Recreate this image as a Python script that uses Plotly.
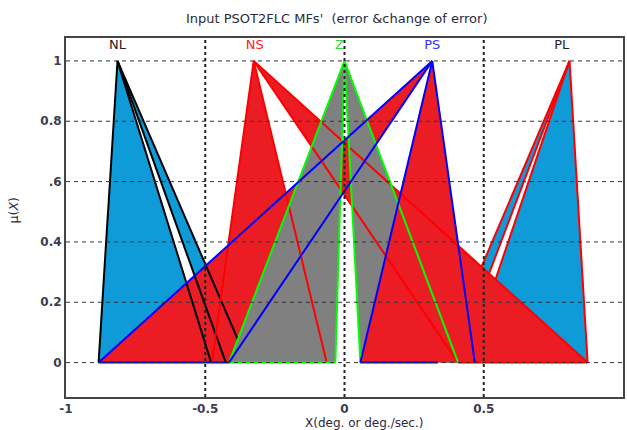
import plotly.graph_objects as go

# ---------------- data (membership-function parameters, x in deg or deg/s) ----------------
mf_names = ["NL", "NS", "Z", "PS", "PL"]
mf_apex = [-0.815, -0.326, 0.0, 0.315, 0.808]

# FOU polygons: outer-left, apex, outer-right, inner-right, apex, inner-left
nl_feet = [-0.883, -0.347, -0.426, -0.479]
ns_feet = [-0.476, 0.873, 0.408, -0.064]
z_feet = [-0.415, 0.408, 0.057, -0.033]
pl_feet = [0.873, 0.345, 0.398, 0.441]
ps_left_feet = [-0.883, -0.415]     # left wedge of PS
ps_right_feet = [0.057, 0.468]      # right triangle of PS

label_x = [-0.815, -0.322, -0.018, 0.315, 0.78]
label_y = [1.052, 1.052, 1.052, 1.052, 1.052]
label_colors = ["#222222", "#ff2020", "#33dd33", "#3333ff", "#222222"]

x_ticks = [-1, -0.5, 0, 0.5, 1]
x_tick_text = ["-1", "-0.5", "0", "0.5", "1"]
y_ticks = [0, 0.2, 0.4, 0.6, 0.8, 1]
y_tick_text = ["0", "0.2", "0.4", ".6", "0.8", "1"]

CYAN = "#0f9ad8"
RED = "#ec1c24"
GRAY = "#808080"

fig = go.Figure()


def fou(apex, feet):
    a1, c1, c2, a2 = feet
    xs = [a1, apex, c1, c2, apex, a2, a1]
    ys = [0, 1, 0, 0, 1, 0, 0]
    return xs, ys


def tri(apex, feet):
    a, c = feet
    return [a, apex, c, a], [0, 1, 0, 0]


def add_fill(xs, ys, color):
    fig.add_trace(go.Scatter(x=xs, y=ys, mode="lines", fill="toself",
                             fillcolor=color, line=dict(width=0, color=color),
                             hoverinfo="skip", showlegend=False))


def add_lines(apex, feet, color, base=None):
    xs, ys = [], []
    for f in feet:
        xs += [apex, f, None]
        ys += [1, 0, None]
    if base:
        for b0, b1 in base:
            xs += [b0, b1, None]
            ys += [0, 0, None]
    fig.add_trace(go.Scatter(x=xs, y=ys, mode="lines",
                             line=dict(color=color, width=2),
                             hoverinfo="skip", showlegend=False))


# layer order reproduces the overlapping of the original picture
add_fill(*fou(mf_apex[0], nl_feet), CYAN)
add_fill(*fou(mf_apex[4], pl_feet), CYAN)
add_lines(mf_apex[4], pl_feet, "#ff0000")
add_fill(*fou(mf_apex[1], ns_feet), RED)
add_fill(*tri(mf_apex[3], ps_left_feet), RED)
add_lines(mf_apex[0], nl_feet, "#000000")
add_fill(*fou(mf_apex[2], z_feet), GRAY)
add_fill(*tri(mf_apex[3], ps_right_feet), RED)
add_lines(mf_apex[1], ns_feet, "#ff0000", base=[(ns_feet[2], ns_feet[1])])
add_lines(mf_apex[2], z_feet, "#00ff00", base=[(z_feet[0], z_feet[3])])
add_lines(mf_apex[3], ps_left_feet + ps_right_feet, "#0000ff",
          base=[(ps_left_feet[0], ps_left_feet[1]), (ps_right_feet[0], 0.335)])

# MF labels
fig.add_trace(go.Scatter(x=label_x, y=label_y, mode="text", text=mf_names,
                         textfont=dict(family="DejaVu Sans", size=13, color=label_colors),
                         hoverinfo="skip", showlegend=False))

# grid drawn above the filled areas
for yv in y_ticks:
    fig.add_shape(type="line", xref="x", yref="y", x0=-1, x1=1, y0=yv, y1=yv,
                  line=dict(color="#333333", width=1, dash="4px,4px"), layer="above")
for xv in x_ticks[1:-1]:
    fig.add_shape(type="line", xref="x", yref="y", x0=xv, x1=xv, y0=-0.114, y1=1.076,
                  line=dict(color="#222222", width=2, dash="dot"), layer="above")

fig.update_layout(
    width=627, height=430,
    margin=dict(l=66, r=2, t=38, b=33),
    paper_bgcolor="white", plot_bgcolor="white",
    title=dict(text="Input PSOT2FLC MFs'  (error &change of error)",
               x=0.537, xanchor="center", y=0.958, yanchor="middle",
               font=dict(family="DejaVu Sans", size=13, color="#2a2a40")),
    xaxis=dict(range=[-1, 1], tickvals=x_ticks, ticktext=x_tick_text,
               showgrid=False, zeroline=False, ticks="",
               showline=True, linecolor="#444444", linewidth=2, mirror=True,
               tickfont=dict(family="DejaVu Sans", size=12, color="#3c3c50", weight="bold")),
    yaxis=dict(range=[-0.114, 1.076], tickvals=y_ticks, ticktext=y_tick_text,
               showgrid=False, zeroline=False, ticks="",
               showline=True, linecolor="#444444", linewidth=2, mirror=True,
               tickfont=dict(family="DejaVu Sans", size=12, color="#3c3c50", weight="bold")),
    annotations=[
        dict(text="X(deg. or deg./sec.)", xref="paper", yref="paper",
             x=0.535, y=-0.072, xanchor="center", yanchor="middle", showarrow=False,
             font=dict(family="DejaVu Sans", size=12, color="#2a2a40")),
        dict(text="\u03bc(<i>X</i>)", xref="paper", yref="paper",
             x=-0.095, y=0.52, xanchor="center", yanchor="middle", showarrow=False,
             textangle=-90,
             font=dict(family="DejaVu Sans", size=12.5, color="#2a2a40")),
    ],
)

fig.write_html("out.html")
